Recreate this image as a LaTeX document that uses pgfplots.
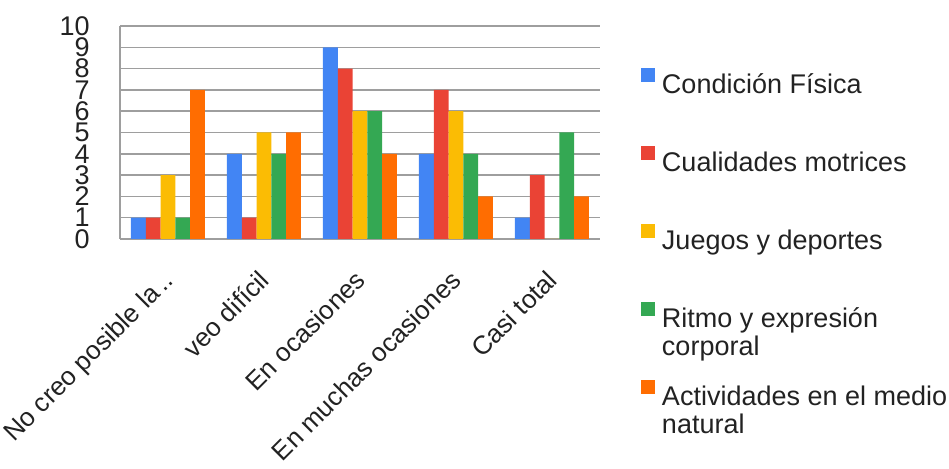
\documentclass[border=0pt]{standalone}
\usepackage{fontspec}
\setmainfont{Liberation Sans}
\usepackage{pgfplots}
\pgfplotsset{compat=1.18}

\definecolor{cblue}{HTML}{4285F4}
\definecolor{cred}{HTML}{EA4335}
\definecolor{cyellow}{HTML}{FBBC04}
\definecolor{cgreen}{HTML}{34A853}
\definecolor{corange}{HTML}{FF6D01}
\definecolor{gridgray}{HTML}{9E9E9E}
\definecolor{txt}{HTML}{222222}

\begin{document}
\begin{tikzpicture}
\begin{axis}[
    scale only axis,
    width=240pt, height=106.5pt,
    ybar=0pt, bar width=7.4pt,
    xmin=-0.5, xmax=4.5,
    ymin=0, ymax=10,
    xtick={0,1,2,3,4},
    xticklabels={No creo posible la\,.., veo difícil, En ocasiones, En muchas ocasiones, Casi total},
    ytick={0,1,...,10},
    major tick length=0pt,
    axis x line*=bottom, axis y line*=left,
    axis line style={-, draw=gridgray, line width=0.75pt},
    ymajorgrids, grid style={draw=gridgray, line width=0.75pt},
    /pgf/number format/assume math mode=true,
    tick label style={text=txt},
    yticklabel style={font=\fontsize{13.5}{14}\selectfont, anchor=east, inner sep=0pt, xshift=-15pt},
    % shifts act in the rotated frame
    xticklabel style={font=\fontsize{13}{14}\selectfont, rotate=45, anchor=north east,
        inner sep=0pt, xshift=-12.7pt, yshift=-8pt},
    legend style={draw=none, fill=none, inner sep=0pt, outer sep=0pt,
        at={(rel axis cs:1,1)}, anchor=north west, xshift=20.5pt, yshift=-21pt,
        font=\fontsize{13.5}{14}\selectfont, text=txt,
        row sep=23pt, column sep=3.5pt,
        nodes={inner sep=0pt, text height=10pt, text depth=3pt}},
    legend cell align=left,
    legend image code/.code={\fill[#1] (0pt,2.5pt) rectangle (7pt,9.5pt);},
]
\addplot[fill=cblue, draw=none] coordinates {(0,1) (1,4) (2,9) (3,4) (4,1)};
\addplot[fill=cred, draw=none] coordinates {(0,1) (1,1) (2,8) (3,7) (4,3)};
\addplot[fill=cyellow, draw=none] coordinates {(0,3) (1,5) (2,6) (3,6) (4,0)};
\addplot[fill=cgreen, draw=none] coordinates {(0,1) (1,4) (2,6) (3,4) (4,5)};
\addplot[fill=corange, draw=none] coordinates {(0,7) (1,5) (2,4) (3,2) (4,2)};
\addlegendentry{Condición Física}
\addlegendentry{Cualidades motrices}
\addlegendentry{Juegos y deportes}
\addlegendentry{\begin{tabular}[t]{@{}l@{}}Ritmo y expresión\\corporal\end{tabular}}
\addlegendentry{\begin{tabular}[t]{@{}l@{}}Actividades en el medio\\natural\end{tabular}}
\end{axis}
\pgfresetboundingbox
\useasboundingbox (-60pt,-115pt) rectangle (414.5pt,119.5pt);
\end{tikzpicture}
\end{document}
